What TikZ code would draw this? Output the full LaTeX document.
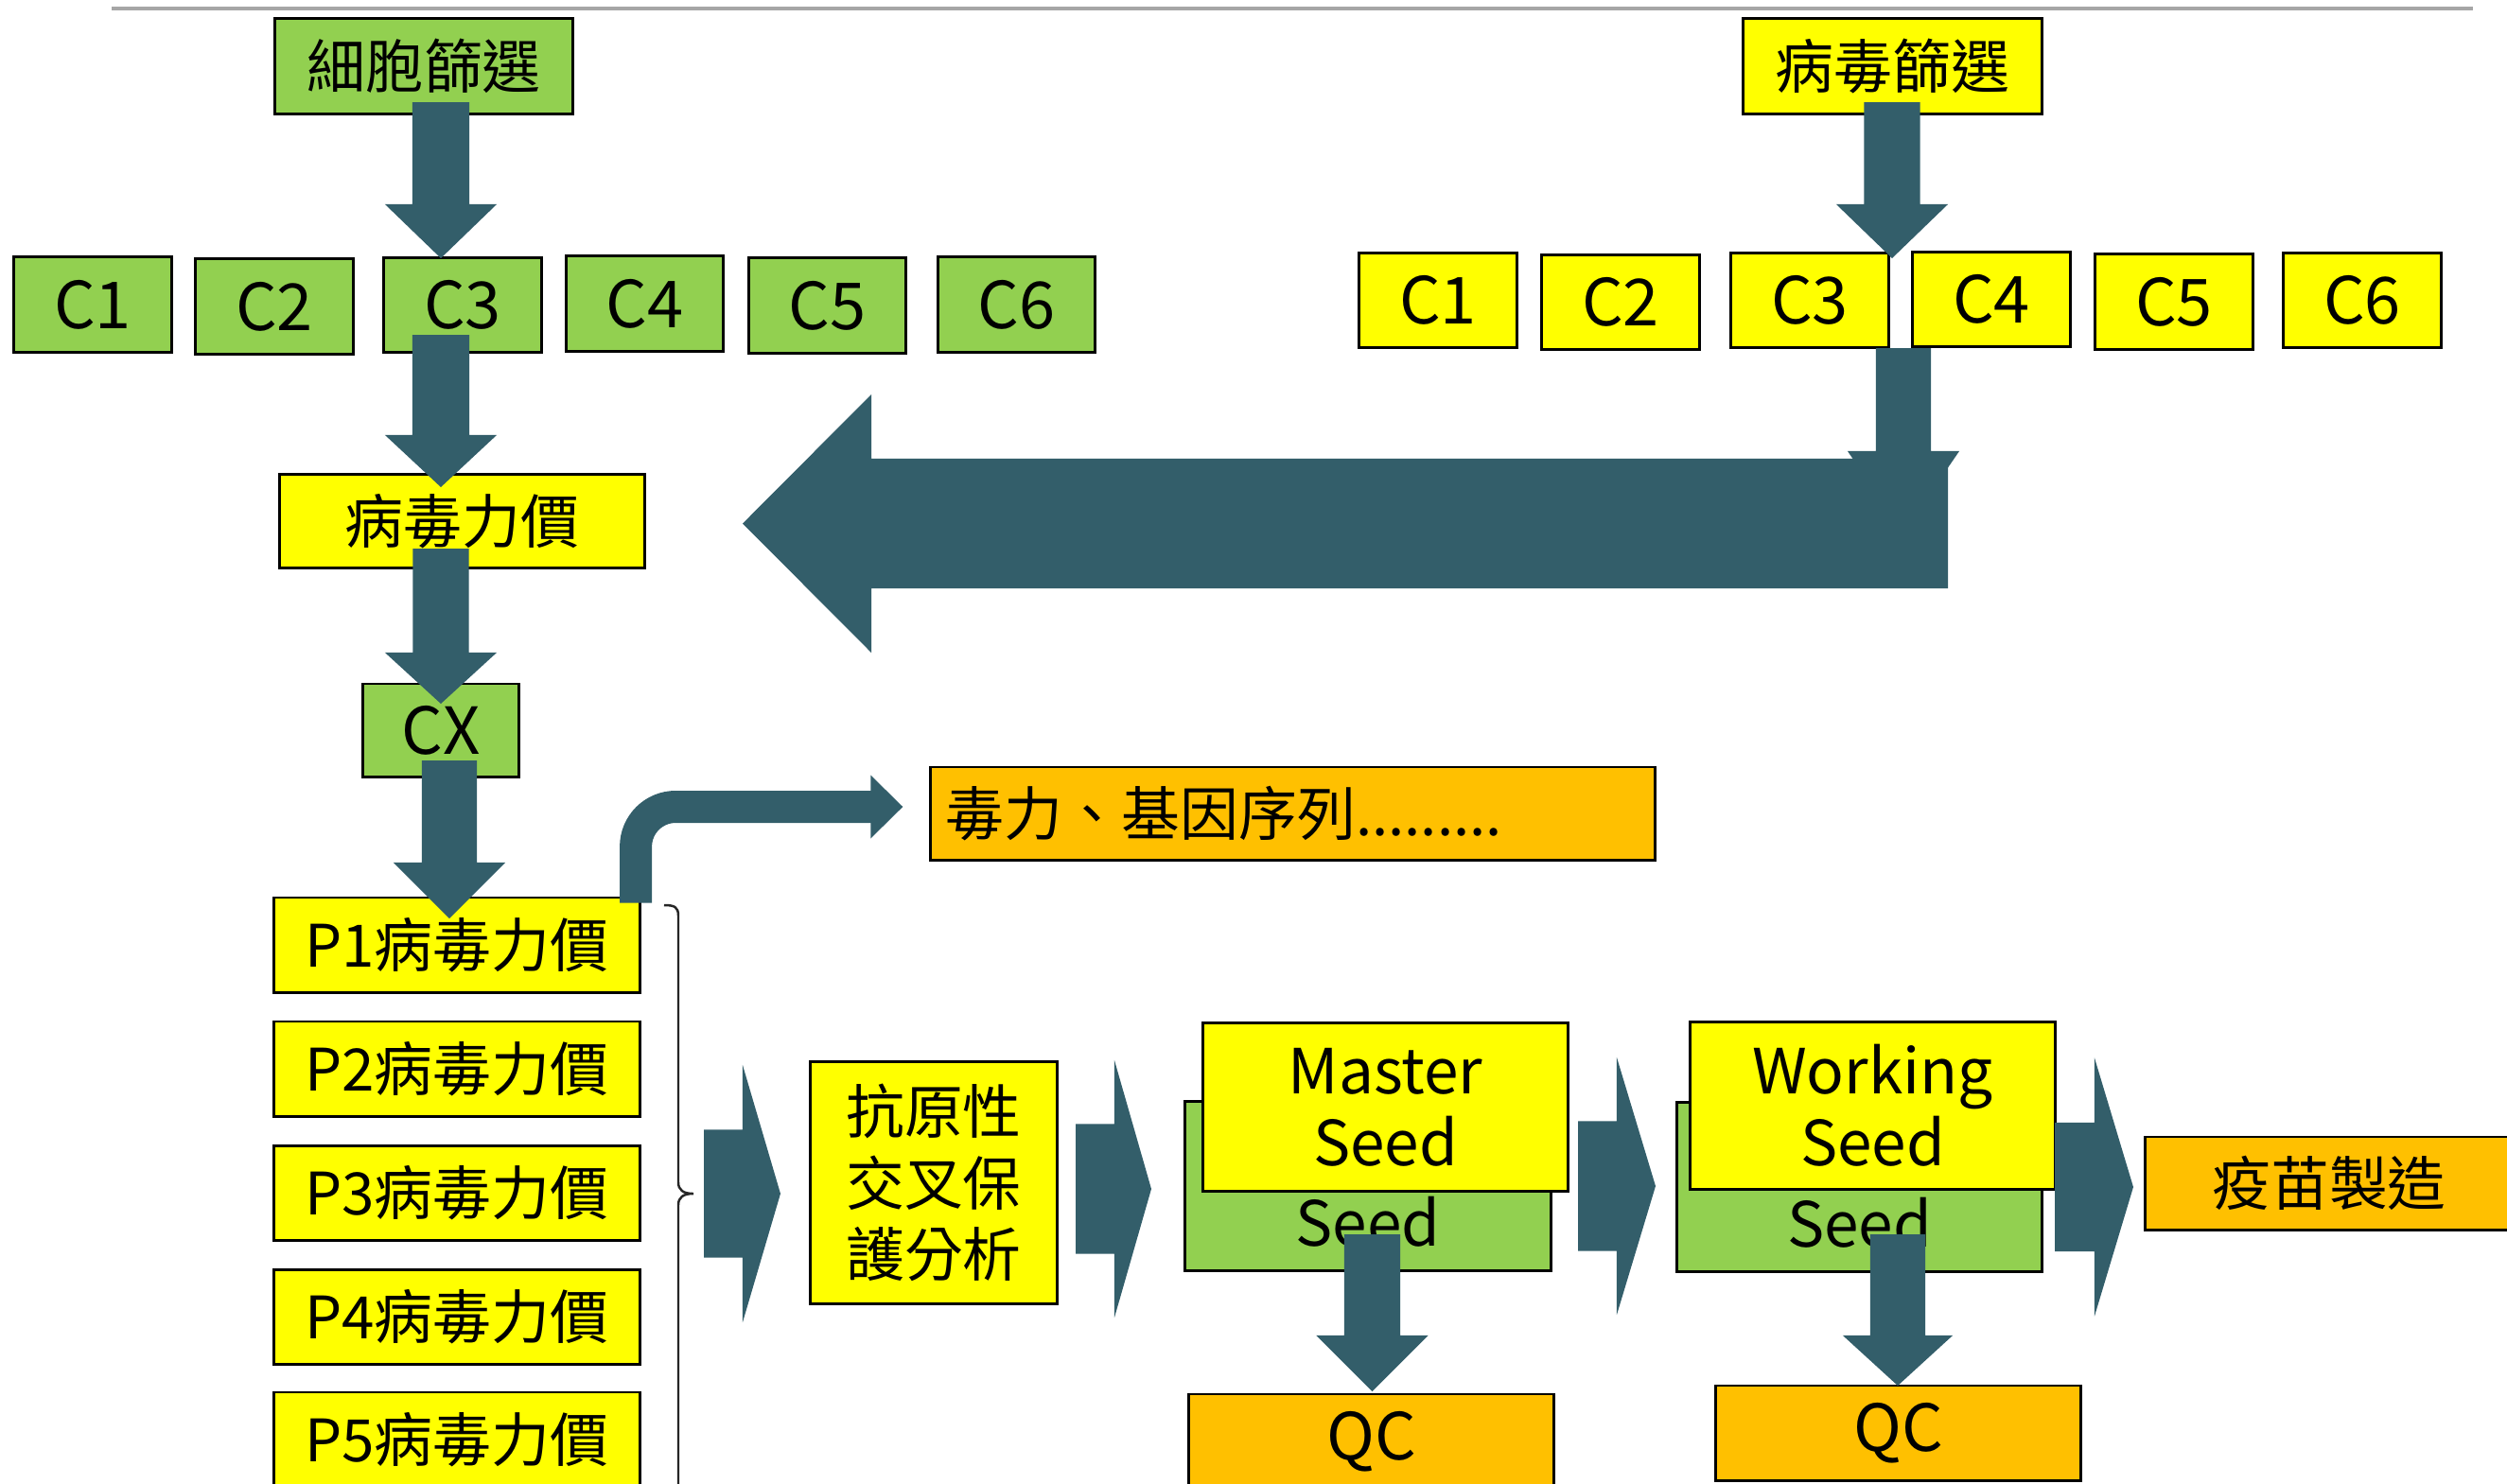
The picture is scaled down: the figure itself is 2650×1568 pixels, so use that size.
\documentclass[tikz,border=0pt]{standalone}
\usepackage{fontspec}
\setmainfont{Noto Sans CJK TC}
\usetikzlibrary{calc}
\definecolor{grn}{HTML}{92D050}
\definecolor{yel}{HTML}{FFFF00}
\definecolor{org}{HTML}{FFC000}
\definecolor{arr}{HTML}{335E6A}
\definecolor{rulegray}{HTML}{A6A6A6}
\newcommand\fm{\fontsize{17.6pt}{21.5pt}\selectfont}
\newcommand\fl{\fontsize{18.7pt}{21.5pt}\selectfont}
\newcommand\fc{\fontsize{19.5pt}{22pt}\selectfont}
% block arrow: start, tip, shaft half width, head half width, head length
\newcommand\blockarrow[5]{%
  \coordinate (bahead) at ($(#2)!#5!(#1)$);
  \fill[arr] ($(#1)!#3!90:(#2)$) -- ($(bahead)!#3!90:(#2)$) -- ($(bahead)!#4!90:(#2)$) -- (#2)
    -- ($(bahead)!#4!-90:(#2)$) -- ($(bahead)!#3!-90:(#2)$) -- ($(#1)!#3!-90:(#2)$) -- cycle;}
\begin{document}
\begin{tikzpicture}[x=0.01cm,y=-0.01cm,
  nbox/.style={draw=black,line width=0.85pt,inner sep=0pt,align=center,font=\fm},
  gbox/.style={nbox,fill=grn},
  ybox/.style={nbox,fill=yel},
  obox/.style={nbox,fill=org},
  cbox/.style={minimum width=1.66cm,minimum height=1cm,font=\fc},
  wbox/.style={minimum width=3.86cm,minimum height=1cm}]
\useasboundingbox (0,0) rectangle (2650,1568);
\clip (0,0) rectangle (2650,1568);
\draw[rulegray,line width=1.1pt] (118,9) -- (2614,9);

% top left branch
\node[gbox,minimum width=3.14cm,minimum height=1cm] (cell) at (448,70) {細胞篩選};
\foreach \i/\x/\y in {1/98/322,2/290/324,3/489/322.5,4/681.5/321,5/874.5/323,6/1074.5/322}
  \node[gbox,cbox] (l\i) at (\x,\y) {C\i};
% top right branch
\node[ybox,minimum width=3.15cm,minimum height=1cm] (vir) at (2000.5,70) {病毒篩選};
\foreach \i/\x/\y in {1/1520/317.5,2/1713/319.5,3/1913/317.5,4/2105/316.5,5/2298/319,6/2497/317.5}
  \node[ybox,cbox] (r\i) at (\x,\y) {C\i};

\node[ybox,minimum width=3.85cm,minimum height=0.98cm] (titer) at (488.5,551) {病毒力價};
\node[gbox,minimum width=1.64cm,minimum height=0.98cm,font=\fc] (cx) at (466,772) {CX};
\foreach \i/\y in {1/999,2/1130,3/1261.5,4/1392.5,5/1522}
  \node[ybox,wbox] (p\i) at (483,\y) {P\i{}病毒力價};

\node[obox,minimum height=0.98cm,text width=7.33cm,align=left,inner xsep=0.16cm] (virul) at (1366.5,860) {毒力、基因序列.........};
\node[ybox,minimum width=2.6cm,minimum height=2.55cm] (anti) at (987,1250.5) {抗原性\\交叉保\\護分析};

\node[gbox,minimum width=3.86cm,minimum height=1.78cm] (mg) at (1446,1254) {};
\node[font=\fl,inner sep=0pt] (mgt) at ($(mg.center)+(0,38)$) {Seed};
\node[ybox,minimum width=3.85cm,minimum height=1.77cm,font=\fl] (my) at (1464.5,1170.5) {Master\\Seed};
\node[gbox,minimum width=3.85cm,minimum height=1.78cm] (wg) at (1965.5,1255) {};
\node[font=\fl,inner sep=0pt] (wgt) at ($(wg.center)+(0,38)$) {Seed};
\node[ybox,minimum width=3.85cm,minimum height=1.76cm,font=\fl] (wy) at (1979.5,1169) {Working\\Seed};

\node[obox,minimum width=3.85cm,minimum height=1cm,font=\fc] (qc1) at (1449.5,1524) {QC};
\node[obox,minimum width=3.85cm,minimum height=1cm,font=\fc] (qc2) at (2006.5,1515) {QC};
\node[obox,minimum width=3.88cm,minimum height=0.98cm] (vac) at (2462,1251) {疫苗製造};

% bracket
\draw[black!85,line width=0.7pt] (702,957) .. controls (713,957) and (717,959) .. (717,968)
  -- (717,1250) .. controls (717,1258) and (722,1262) .. (733,1262)
  .. controls (722,1262) and (717,1266) .. (717,1274) -- (717,1580);

% vertical block arrows
\coordinate (a1s) at (466,108);  \coordinate (a1e) at (466,273);
\coordinate (a2s) at (466,354);  \coordinate (a2e) at (466,515);
\coordinate (a3s) at (466,580);  \coordinate (a3e) at (466,744);
\coordinate (a4s) at (475,804);  \coordinate (a4e) at (475,971);
\coordinate (a5s) at (2000,108); \coordinate (a5e) at (2000,273);
\coordinate (a6s) at (2012,368); \coordinate (a6e) at (2012,563);
\coordinate (a7s) at (1450.5,1305); \coordinate (a7e) at (1450.5,1471);
\coordinate (a8s) at (2006,1305); \coordinate (a8e) at (2006,1465);
\blockarrow{a1s}{a1e}{0.30cm}{0.59cm}{0.57cm}
\blockarrow{a2s}{a2e}{0.30cm}{0.59cm}{0.55cm}
\blockarrow{a3s}{a3e}{0.295cm}{0.59cm}{0.54cm}
\blockarrow{a4s}{a4e}{0.29cm}{0.59cm}{0.59cm}
\blockarrow{a5s}{a5e}{0.295cm}{0.59cm}{0.57cm}
\blockarrow{a6s}{a6e}{0.29cm}{0.59cm}{0.86cm}
\blockarrow{a7s}{a7e}{0.295cm}{0.59cm}{0.59cm}
\blockarrow{a8s}{a8e}{0.29cm}{0.58cm}{0.53cm}

% big left arrow
\coordinate (bs) at (2059,553.5); \coordinate (be) at (785,553.5);
\blockarrow{bs}{be}{0.685cm}{1.365cm}{1.36cm}

% chevron arrows
\coordinate (cas) at (744,1262);  \coordinate (cae) at (825,1262);
\coordinate (cbs) at (1137,1257); \coordinate (cbe) at (1217,1257);
\coordinate (ccs) at (1668,1254); \coordinate (cce) at (1750,1254);
\coordinate (cds) at (2172,1255); \coordinate (cde) at (2255,1255);
\blockarrow{cas}{cae}{0.675cm}{1.36cm}{0.40cm}
\blockarrow{cbs}{cbe}{0.685cm}{1.36cm}{0.39cm}
\blockarrow{ccs}{cce}{0.685cm}{1.36cm}{0.41cm}
\blockarrow{cds}{cde}{0.68cm}{1.365cm}{0.41cm}

% bent arrow from P1 to virulence box
\coordinate (bend1) at ($(p1.north east)+(-5.5,7)$);
\coordinate (bend2) at ($(virul.west)+(-61,-7)$);
\draw[arr,line width=0.34cm,rounded corners=0.42cm] (bend1) |- (bend2);
\fill[arr] ($(bend2)+(-1,-33.5)$) -- ($(bend2)+(33,0)$) -- ($(bend2)+(-1,33.5)$) -- cycle;
\end{tikzpicture}
\end{document}
